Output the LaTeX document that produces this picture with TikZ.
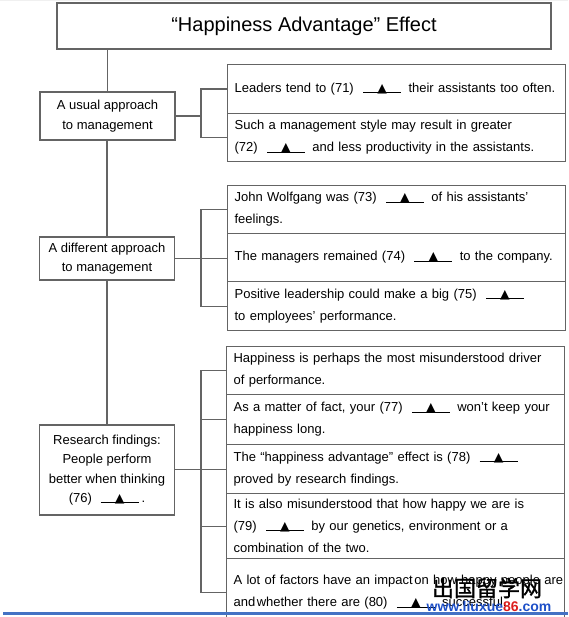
\documentclass[tikz,border=0pt]{standalone}
\usepackage{fontspec}
\setmainfont{Liberation Sans}
\newfontfamily\trifont{DejaVu Sans}
\newfontfamily\cjkfont[FakeBold=1.2]{Noto Sans CJK SC}
\definecolor{linegray}{RGB}{100,100,100}
\definecolor{urlblue}{RGB}{30,80,200}
\definecolor{urlred}{RGB}{220,30,30}
\definecolor{barblue}{RGB}{68,114,196}
\newcommand{\blank}{\hspace{5pt}\makebox[38pt]{\rlap{\rule[-0.6pt]{38pt}{0.9pt}}\hfill{\trifont\fontsize{12.5}{12}\selectfont ▲}\hfill}\hspace{3pt}}
\tikzset{
  frame/.style={draw=linegray, line width=1.2pt, fill=white, inner sep=0pt},
  titlebox/.style={frame, minimum width=494pt, minimum height=46pt, font=\fontsize{20}{24}\selectfont},
  leftbox/.style={frame, minimum width=135pt, align=center, font=\fontsize{13}{19.5}\selectfont},
  rowbox/.style={frame, anchor=north west, minimum width=338pt, text width=324pt, inner xsep=7pt, align=left, font=\fontsize{13}{22}\selectfont},
  link/.style={draw=linegray, line width=1.2pt}
}
\begin{document}
\begin{tikzpicture}[x=1pt,y=-1pt]
\useasboundingbox (0,0) rectangle (568,617);
\fill[gray!12] (0,0) rectangle (568,1.5);
\coordinate (brx) at (201,0);
% title
\node[titlebox] (title) at (304,26) {“Happiness Advantage” Effect};
% left boxes
\node[leftbox, minimum height=48pt] (b1) at (107.5,116) {A usual approach\\to management};
\node[leftbox, minimum height=43pt] (b2) at (107,258.5) {A different approach\\to management};
\node[leftbox, minimum height=90pt] (b3) at (107,470) {Research findings:\\People perform\\better when thinking\\(76) \blank.};
% group 1
\node[rowbox, minimum height=49pt] (r11) at (227,64) {Leaders tend to (71) \blank{} their assistants too often.};
\node[rowbox, minimum height=48pt] (r12) at (227,113) {Such a management style may result in greater\\(72) \blank{} and less productivity in the assistants.};
% group 2
\node[rowbox, minimum height=48pt] (r21) at (227,185) {John Wolfgang was (73) \blank{} of his assistants’\\feelings.};
\node[rowbox, minimum height=48pt] (r22) at (227,233) {The managers remained (74) \blank{} to the company.};
\node[rowbox, minimum height=49pt] (r23) at (227,281) {Positive leadership could make a big (75) \blank\\to employees’ performance.};
% group 3
\node[rowbox, minimum height=48pt] (r31) at (226,346) {Happiness is perhaps the most misunderstood driver\\of performance.};
\node[rowbox, minimum height=50pt] (r32) at (226,394) {As a matter of fact, your (77) \blank{} won’t keep your\\happiness long.};
\node[rowbox, minimum height=49pt] (r33) at (226,444) {The “happiness advantage” effect is (78) \blank\\proved by research findings.};
\node[rowbox, minimum height=65pt] (r34) at (226,493) {It is also misunderstood that how happy we are is\\(79) \blank{} by our genetics, environment or a\\combination of the two.};
\node[rowbox, minimum height=68pt] (r35) at (226,558) {\mbox{A lot of factors have an impact\hspace{1.5pt}on how happy people are}\\\mbox{and\hspace{1.5pt}whether there are (80) \blank{} successful.}};
% trunk
\draw[link] (b1.north |- title.south) -- (b1.north);
\draw[link] (b2.north |- b1.south) -- (b2.north);
\draw[link] (b2.south) -- (b2.south |- b3.north);
% bracket 1
\draw[link] (r11.west) -- (r11.west -| brx) -- (r12.west -| brx) -- (r12.west);
\draw[link] (b1.east) -- (b1.east -| brx);
% bracket 2
\draw[link] (r21.west) -- (r21.west -| brx) -- (r23.west -| brx) -- (r23.west);
\draw[link] (b2.east) -- (b2.east -| r22.west);
% bracket 3
\draw[link] (r31.west) -- (r31.west -| brx) -- (r35.west -| brx) -- (r35.west);
\draw[link] (r32.west -| brx) -- (r32.west);
\draw[link] (r34.west -| brx) -- (r34.west);
\draw[link] (b3.east |- r33.west) -- (r33.west);
% watermark
\node[font=\cjkfont\fontsize{22}{22}\selectfont, inner sep=0pt] (wm) at (487,588) {出国留学网};
\node[font=\bfseries\fontsize{14}{14}\selectfont, text=urlblue, inner sep=0pt] (url) at (489,606) {www.liuxue\textcolor{urlred}{86}.com};
\fill[barblue] (3,612) rectangle (568,615);
\end{tikzpicture}
\end{document}
